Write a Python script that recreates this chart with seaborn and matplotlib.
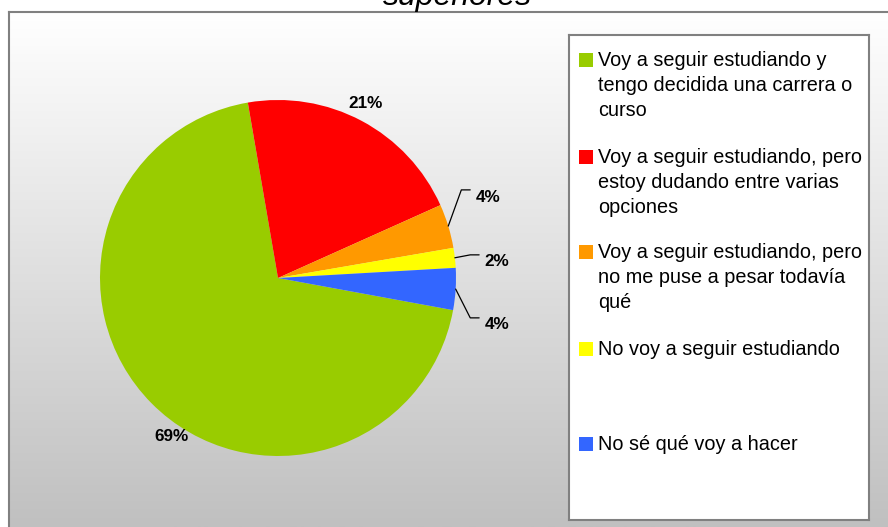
import matplotlib.pyplot as plt
import numpy as np
import seaborn as sns
from matplotlib.colors import LinearSegmentedColormap
from matplotlib.patches import Rectangle

# Data
categories = ['Voy a seguir estudiando y\ntengo decidida una carrera o\ncurso',
              'Voy a seguir estudiando, pero\nestoy dudando entre varias\nopciones',
              'Voy a seguir estudiando, pero\nno me puse a pesar todavía\nqué',
              'No voy a seguir estudiando',
              'No sé qué voy a hacer']
shares = [69.4, 21.0, 4.0, 1.8, 3.8]
pct_labels = ['69%', '21%', '4%', '2%', '4%']
colors = ['#99CC00', '#FF0000', '#FF9900', '#FFFF00', '#3366FF']

sns.set_theme(style='white')
plt.rcParams['font.family'] = ['Liberation Sans', 'DejaVu Sans']

W, H = 888, 527
fig = plt.figure(figsize=(W / 100, H / 100), dpi=100)
fig.patch.set_facecolor('white')


def box(x, y, w, h):
    # pixel box (top-left origin) -> figure fraction
    return [x / W, 1 - (y + h) / H, w / W, h / H]


# plot area with vertical gradient
bg = fig.add_axes(box(9, 12, 879, 515))
grad = np.linspace(0, 1, 256).reshape(-1, 1)
cmap = LinearSegmentedColormap.from_list('bg', ['#ffffff', '#c0c0c0'])
bg.imshow(grad, cmap=cmap, aspect='auto', extent=[0, 1, 0, 1])
bg.set_xticks([])
bg.set_yticks([])
for side in ['right', 'bottom']:
    bg.spines[side].set_visible(False)
for side in ['left', 'top']:
    bg.spines[side].set_color('#808080')
    bg.spines[side].set_linewidth(1.5)

# title, mostly cropped off the top like in the original
fig.text(457 / W, 1 - 5 / H, 'superiores', ha='center', va='baseline',
         fontsize=23, style='italic', color='black')

# pie
ax = fig.add_axes(box(100, 100, 356, 356))
wedges, _ = ax.pie(shares, colors=colors, startangle=-10.4, counterclock=False,
                   wedgeprops=dict(linewidth=0))
ax.set_xlim(-1, 1)
ax.set_ylim(-1, 1)
ax.set_aspect('equal')
ax.axis('off')

label_xy = [(-0.6, -0.89), (0.49, 0.98), (1.18, 0.455), (1.23, 0.09), (1.23, -0.264)]
for i, (w, lab) in enumerate(zip(wedges, pct_labels)):
    lx, ly = label_xy[i]
    ax.text(lx, ly, lab, ha='center', va='center', fontsize=12.3,
            fontweight='bold', color='black', clip_on=False)
    if shares[i] < 10:
        mid = np.deg2rad((w.theta1 + w.theta2) / 2)
        ex, ey = np.cos(mid), np.sin(mid)
        ax.plot([ex, lx - 0.15, lx - 0.1], [ey, ly + 0.04, ly + 0.04],
                color='black', lw=0.9, clip_on=False)

# legend box
lg = fig.add_axes(box(569, 35, 300, 485))
lg.set_xlim(0, 300)
lg.set_ylim(485, 0)
lg.set_facecolor('white')
lg.set_xticks([])
lg.set_yticks([])
for s in lg.spines.values():
    s.set_color('#808080')
    s.set_linewidth(1.5)
baselines = [32, 129, 224, 321, 416]
for cat, col, yb in zip(categories, colors, baselines):
    lg.add_patch(Rectangle((10, yb - 14), 14, 14, color=col, lw=0))
    lg.text(29, yb - 16, cat, ha='left', va='top', fontsize=14.3,
            linespacing=1.4, color='black')

fig.savefig('out.png', dpi=100)
